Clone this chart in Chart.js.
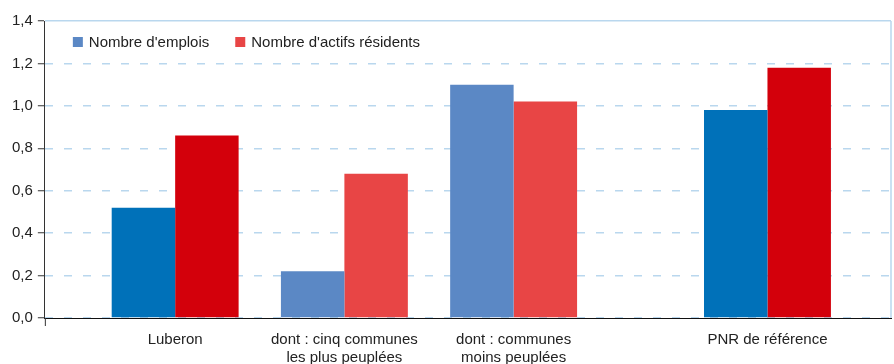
<!DOCTYPE html>
<html>
<head>
<meta charset="utf-8">
<script src="https://cdn.jsdelivr.net/npm/chart.js@4/dist/chart.umd.min.js"></script>
<style>
  html, body { margin: 0; padding: 0; background: #fff; }
  #wrap { width: 894px; height: 364px; }
</style>
</head>
<body>
<div id="wrap"><canvas id="chart"></canvas></div>
<script>
const categories = [
  ['Luberon'],
  ['dont : cinq communes', 'les plus peuplées'],
  ['dont : communes', 'moins peuplées'],
  ['PNR de référence']
];
// slot of each group on the x axis (gap before the reference park)
const slots = [0, 1, 2, 3.5];
const emplois = [0.52, 0.22, 1.10, 0.98];
const actifs = [0.86, 0.68, 1.02, 1.18];
const yTicks = [0, 0.2, 0.4, 0.6, 0.8, 1.0, 1.2, 1.4];

const BLUE_DARK = '#0071b9', BLUE_LIGHT = '#5b88c5';
const RED_DARK = '#d3000b', RED_LIGHT = '#e84545';
const GRID = '#b9d7ee';

// light-coloured bars are the "dont" sub-groups
const isSub = [false, true, true, false];

const toPoints = vals => vals.map((v, i) => ({ x: slots[i], y: v }));

const frame = {
  id: 'frame',
  afterDatasetsDraw(chart) {
    const { ctx, chartArea: a } = chart;
    ctx.save();
    ctx.strokeStyle = GRID;
    ctx.lineWidth = 1.5;
    ctx.beginPath();
    ctx.moveTo(a.right, a.top);
    ctx.lineTo(a.right, a.bottom);
    ctx.stroke();
    // y axis runs a little below the base line
    ctx.strokeStyle = '#333';
    ctx.lineWidth = 1;
    ctx.beginPath();
    ctx.moveTo(a.left + 0.5, a.bottom);
    ctx.lineTo(a.left + 0.5, a.bottom + 8);
    ctx.stroke();

    // legend inside plot area
    ctx.font = '15px "Liberation Sans", Arial, sans-serif';
    ctx.textBaseline = 'middle';
    ctx.fillStyle = '#222';
    const cy = a.top + 21;
    let x = a.left + 28;
    const colors = [BLUE_LIGHT, RED_LIGHT];
    chart.data.datasets.forEach((ds, i) => {
      ctx.fillStyle = colors[i];
      ctx.fillRect(x, cy - 5, 10, 10);
      ctx.fillStyle = '#222';
      ctx.fillText(ds.label, x + 16, cy + 1);
      x += 16 + ctx.measureText(ds.label).width + 26;
    });
    ctx.restore();
  }
};

new Chart(document.getElementById('chart'), {
  type: 'bar',
  data: {
    datasets: [
      {
        label: "Nombre d'emplois",
        data: toPoints(emplois),
        backgroundColor: isSub.map(s => s ? BLUE_LIGHT : BLUE_DARK)
      },
      {
        label: "Nombre d'actifs résidents",
        data: toPoints(actifs),
        backgroundColor: isSub.map(s => s ? RED_LIGHT : RED_DARK)
      }
    ]
  },
  options: {
    responsive: true,
    maintainAspectRatio: false,
    animation: false,
    barPercentage: 1,
    categoryPercentage: 0.75,
    layout: { padding: { left: 7, right: 3, top: 21, bottom: -8 } },
    plugins: {
      legend: { display: false },
      tooltip: { enabled: false }
    },
    scales: {
      x: {
        type: 'linear',
        offset: false,
        min: -0.77,
        max: 4.23,
        afterBuildTicks: scale => { scale.ticks = slots.map(v => ({ value: v })); },
        grid: { display: false, offset: false },
        border: { color: '#111', width: 1 },
        ticks: {
          autoSkip: false,
          maxRotation: 0,
          padding: 5,
          color: '#222',
          font: { family: '"Liberation Sans", Arial, sans-serif', size: 15, lineHeight: 1.2 },
          callback: (v, i) => categories[i]
        }
      },
      y: {
        min: 0,
        max: 1.4,
        afterBuildTicks: scale => { scale.ticks = yTicks.map(v => ({ value: v })); },
        grid: {
          color: GRID,
          lineWidth: 1.5,
          tickColor: '#333',
          tickLength: 7,
          tickWidth: 1
        },
        border: {
          color: '#333',
          width: 1,
          dash: c => (c.tick && c.tick.value >= 1.4) ? [] : [8, 11]
        },
        ticks: {
          padding: 5,
          color: '#222',
          font: { family: '"Liberation Sans", Arial, sans-serif', size: 15 },
          callback: v => v.toFixed(1).replace('.', ',')
        }
      }
    }
  },
  plugins: [frame]
});
</script>
</body>
</html>
